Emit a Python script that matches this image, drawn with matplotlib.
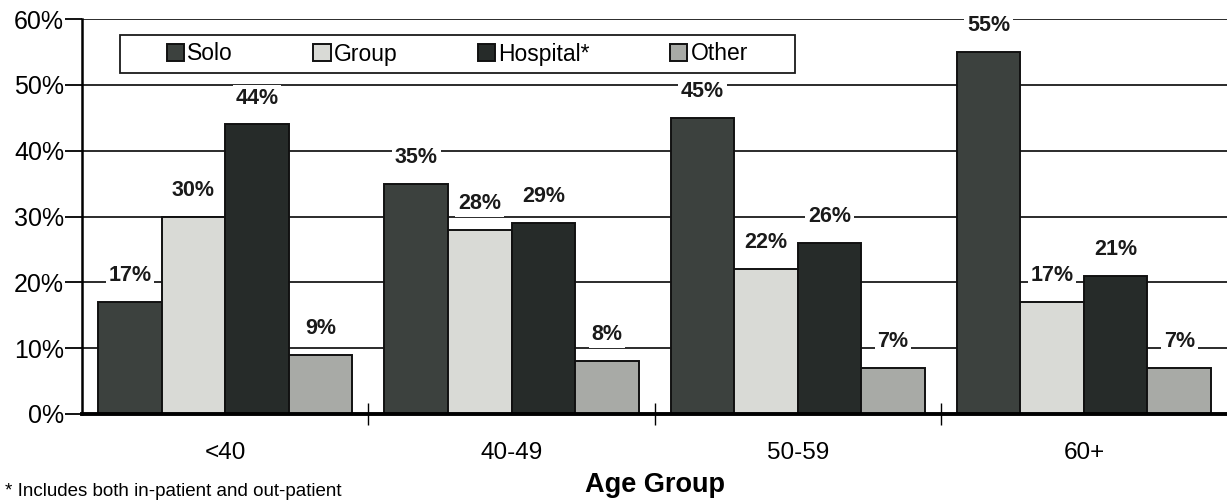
import numpy as np
import matplotlib
matplotlib.use("Agg")
import matplotlib.pyplot as plt
from matplotlib.ticker import FixedLocator
from matplotlib.patches import Rectangle

plt.rcParams['font.family'] = ['Liberation Sans', 'DejaVu Sans']

# data
age_groups = ['<40', '40-49', '50-59', '60+']
series = ['Solo', 'Group', 'Hospital*', 'Other']
solo = [17, 35, 45, 55]
group = [30, 28, 22, 17]
hospital = [44, 29, 26, 21]
other = [9, 8, 7, 7]
values = [solo, group, hospital, other]
colors = ['#3c413e', '#d9dad6', '#262b29', '#a8aaa6']

fig = plt.figure(figsize=(12.27, 5.03), dpi=100)
ax = fig.add_axes([0.067, 0.177, 0.933, 0.785])

x = np.arange(len(age_groups))
w = 0.222
offsets = (np.arange(4) - 1.5) * w
for vals, off, c, name in zip(values, offsets, colors, series):
    ax.bar(x + off, vals, w, color=c, edgecolor='#111111', linewidth=1.4,
           label=name, zorder=2)
    for xi, v in zip(x + off, vals):
        ax.text(xi, v + 4.0, f'{v}%', ha='center', va='center', fontsize=15.5,
                fontweight='bold', color='#1a1a1a', zorder=4,
                bbox=dict(facecolor='white', edgecolor='none', pad=2))

ax.set_xlim(-0.5, 3.5)
ax.set_ylim(0, 60)
ax.set_yticks(range(0, 61, 10))
ax.set_yticklabels([f'{v}%' for v in range(0, 61, 10)], fontsize=18)
ax.yaxis.grid(True, color='#1a1a1a', linewidth=1.3, zorder=0)
ax.set_axisbelow(True)
ax.tick_params(axis='y', direction='out', length=12, width=1.3, pad=1)

ax.set_xticks(x)
ax.set_xticklabels(age_groups, fontsize=17.5)
ax.tick_params(axis='x', length=0, pad=20)
ax.xaxis.set_minor_locator(FixedLocator([0.5, 1.5, 2.5]))
ax.tick_params(axis='x', which='minor', direction='inout', length=16, width=1.0)

for s in ['right', 'top']:
    ax.spines[s].set_visible(False)
ax.spines['left'].set_linewidth(1.8)
ax.spines['bottom'].set_linewidth(2.8)

ax.set_xlabel('Age Group', fontsize=19.5, fontweight='bold', labelpad=6)

# legend box drawn separately so the side padding can be wider than the top
ax.add_patch(Rectangle((120 / 1227, 1 - 73 / 503), 675 / 1227, 38 / 503,
                       transform=fig.transFigure, facecolor='white',
                       edgecolor='#1a1a1a', linewidth=1.3, zorder=5,
                       clip_on=False))
leg = ax.legend(loc='center', bbox_to_anchor=(457.5 / 1227, 1 - 54 / 503),
                bbox_transform=fig.transFigure, ncol=4, frameon=False,
                fontsize=16.5, handlelength=0.75, handleheight=0.75,
                handletextpad=0.15, columnspacing=3.5, borderpad=0.2)
leg.set_zorder(6)

fig.text(0.004, 0.022, '* Includes both in-patient and out-patient',
         fontsize=13.5, ha='left', va='center')

fig.savefig('out.png', dpi=100)
